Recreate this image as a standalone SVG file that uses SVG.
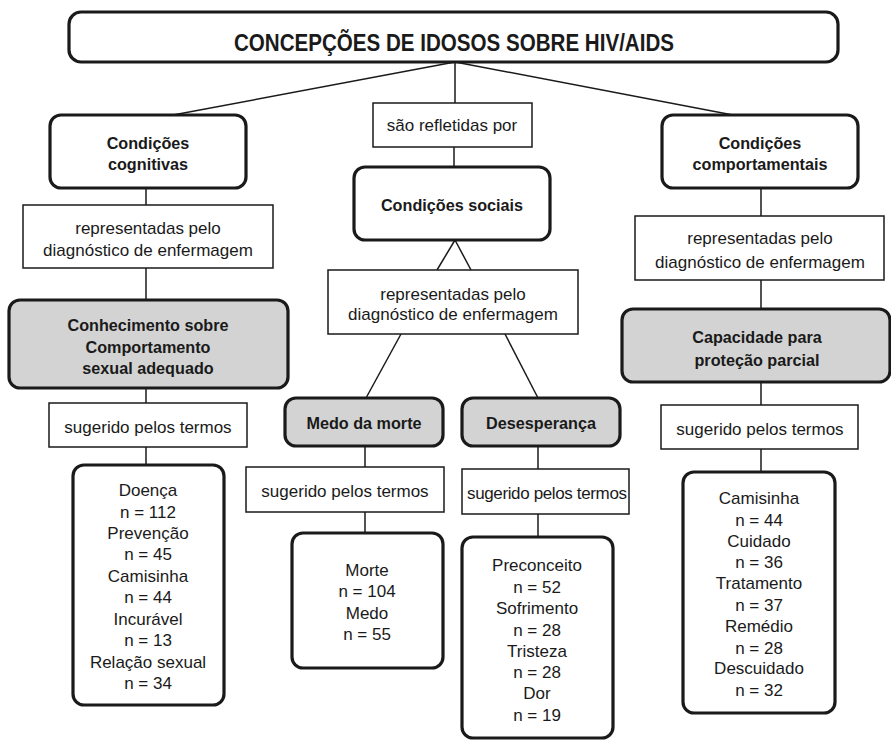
<svg xmlns="http://www.w3.org/2000/svg" width="891" height="740" viewBox="0 0 891 740">
<style>
.rb{fill:#fff;stroke:#1a1a1a;stroke-width:3.2}
.gb{fill:#d3d3d3;stroke:#1a1a1a;stroke-width:3.2}
.lb{fill:#fff;stroke:#1a1a1a;stroke-width:1.5}
.t{font-family:"Liberation Sans",Arial,sans-serif;font-size:17px;fill:#1a1a1a;text-anchor:middle}
.b{font-weight:bold;font-size:16.2px}
.c line{stroke:#1a1a1a;stroke-width:1.5}
</style>
<g class="c" id="connectors">
<line x1="455" y1="62" x2="173" y2="115"/>
<line x1="455" y1="62" x2="455" y2="103"/>
<line x1="455" y1="62" x2="733" y2="115"/>
<line x1="454" y1="147" x2="454" y2="167"/>
<line x1="455" y1="240" x2="437" y2="270"/>
<line x1="455" y1="240" x2="471" y2="270"/>
<line x1="401" y1="334" x2="366" y2="398"/>
<line x1="505" y1="334" x2="538" y2="398"/>
<line x1="146" y1="188" x2="146" y2="205"/>
<line x1="146" y1="268" x2="146" y2="300"/>
<line x1="146" y1="388" x2="146" y2="403"/>
<line x1="146" y1="447" x2="146" y2="465"/>
<line x1="365" y1="446" x2="365" y2="467"/>
<line x1="365" y1="512" x2="365" y2="533"/>
<line x1="538" y1="446" x2="538" y2="469"/>
<line x1="538" y1="514" x2="538" y2="537"/>
<line x1="761" y1="188" x2="761" y2="216"/>
<line x1="761" y1="280" x2="761" y2="309"/>
<line x1="761" y1="382" x2="761" y2="405"/>
<line x1="761" y1="449" x2="761" y2="472"/>
</g>
<g id="title">
<rect class="rb" x="69" y="12" width="769" height="50" rx="12"/>
<text class="t b" x="454" y="50.5" textLength="440" lengthAdjust="spacingAndGlyphs" style="font-size:23px">CONCEPÇÕES DE IDOSOS SOBRE HIV/AIDS</text>
</g>
<g id="cognitivas">
<rect class="rb" x="50" y="115" width="196" height="73" rx="11"/>
<text class="t b" x="148" y="148.5">Condições</text>
<text class="t b" x="148" y="169.5">cognitivas</text>
</g>
<g id="rep-left">
<rect class="lb" x="23" y="205" width="250" height="63"/>
<text class="t" x="148" y="234">representadas pelo</text>
<text class="t" x="148" y="256">diagnóstico de enfermagem</text>
</g>
<g id="conhecimento">
<rect class="gb" x="9" y="300" width="279" height="88" rx="11"/>
<text class="t b" x="148" y="331">Conhecimento sobre</text>
<text class="t b" x="148" y="352.5">Comportamento</text>
<text class="t b" x="148" y="374">sexual adequado</text>
</g>
<g id="sug-left">
<rect class="lb" x="49" y="403" width="198" height="44"/>
<text class="t" x="148" y="432.5">sugerido pelos termos</text>
</g>
<g id="terms-left">
<rect class="rb" x="73" y="465" width="151" height="240" rx="11"/>
<text class="t" x="148" y="496">Doença</text>
<text class="t" x="148" y="517.5">n = 112</text>
<text class="t" x="148" y="539">Prevenção</text>
<text class="t" x="148" y="560">n =  45</text>
<text class="t" x="148" y="582">Camisinha</text>
<text class="t" x="148" y="603">n =  44</text>
<text class="t" x="148" y="625">Incurável</text>
<text class="t" x="148" y="646">n =  13</text>
<text class="t" x="148" y="667.5">Relação sexual</text>
<text class="t" x="148" y="689">n =  34</text>
</g>
<g id="refletidas">
<rect class="lb" x="373" y="103" width="159" height="44"/>
<text class="t" x="452" y="131">são refletidas por</text>
</g>
<g id="sociais">
<rect class="rb" x="354" y="167" width="196" height="73" rx="11"/>
<text class="t b" x="452" y="211">Condições sociais</text>
</g>
<g id="rep-mid">
<rect class="lb" x="328" y="270" width="250" height="64"/>
<text class="t" x="453" y="300">representadas pelo</text>
<text class="t" x="453" y="320">diagnóstico de enfermagem</text>
</g>
<g id="medo">
<rect class="gb" x="285" y="398" width="158" height="48" rx="11"/>
<text class="t b" x="364" y="429">Medo da morte</text>
</g>
<g id="desesperanca">
<rect class="gb" x="462" y="398" width="158" height="48" rx="11"/>
<text class="t b" x="541" y="429">Desesperança</text>
</g>
<g id="sug-mid-left">
<rect class="lb" x="246" y="467" width="198" height="45"/>
<text class="t" x="345" y="497">sugerido pelos termos</text>
</g>
<g id="sug-mid-right">
<rect class="lb" x="462" y="469" width="167" height="45"/>
<text class="t" x="547" y="499" textLength="160">sugerido pelos termos</text>
</g>
<g id="terms-medo">
<rect class="rb" x="292" y="533" width="151" height="135" rx="11"/>
<text class="t" x="367" y="576">Morte</text>
<text class="t" x="367" y="597">n = 104</text>
<text class="t" x="367" y="618.5">Medo</text>
<text class="t" x="367" y="640">n =  55</text>
</g>
<g id="terms-desesperanca">
<rect class="rb" x="462" y="537" width="151" height="201" rx="11"/>
<text class="t" x="537" y="571">Preconceito</text>
<text class="t" x="537" y="592.5">n = 52</text>
<text class="t" x="537" y="614">Sofrimento</text>
<text class="t" x="537" y="635.5">n = 28</text>
<text class="t" x="537" y="657">Tristeza</text>
<text class="t" x="537" y="678">n = 28</text>
<text class="t" x="537" y="699">Dor</text>
<text class="t" x="537" y="720.5">n = 19</text>
</g>
<g id="comportamentais">
<rect class="rb" x="662" y="115" width="196" height="73" rx="11"/>
<text class="t b" x="760" y="149">Condições</text>
<text class="t b" x="760" y="170">comportamentais</text>
</g>
<g id="rep-right">
<rect class="lb" x="635" y="216" width="249" height="64"/>
<text class="t" x="760" y="244">representadas pelo</text>
<text class="t" x="760" y="267.5">diagnóstico de enfermagem</text>
</g>
<g id="capacidade">
<rect class="gb" x="622" y="309" width="268" height="73" rx="11"/>
<text class="t b" x="757" y="343">Capacidade para</text>
<text class="t b" x="757" y="365.5">proteção parcial</text>
</g>
<g id="sug-right">
<rect class="lb" x="661" y="405" width="197" height="44"/>
<text class="t" x="760" y="435">sugerido pelos termos</text>
</g>
<g id="terms-right">
<rect class="rb" x="683" y="472" width="152" height="241" rx="11"/>
<text class="t" x="759" y="504">Camisinha</text>
<text class="t" x="759" y="526">n = 44</text>
<text class="t" x="759" y="547">Cuidado</text>
<text class="t" x="759" y="567.5">n = 36</text>
<text class="t" x="759" y="589">Tratamento</text>
<text class="t" x="759" y="611">n = 37</text>
<text class="t" x="759" y="632">Remédio</text>
<text class="t" x="759" y="653.5">n = 28</text>
<text class="t" x="759" y="674">Descuidado</text>
<text class="t" x="759" y="696">n = 32</text>
</g>
</svg>
